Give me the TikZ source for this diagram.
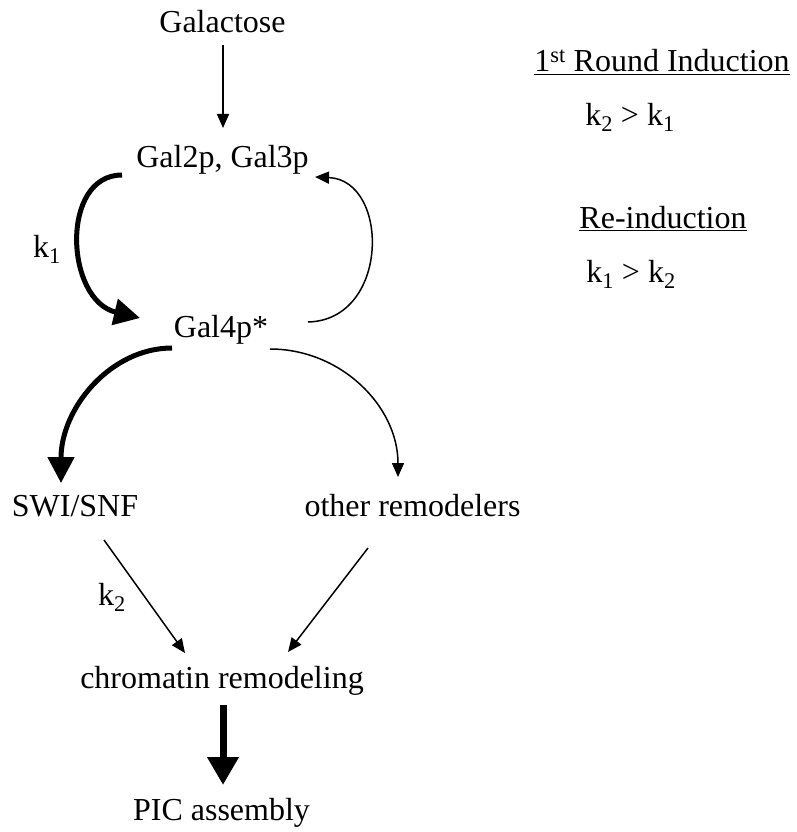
\documentclass[tikz,border=0pt]{standalone}
\usepackage{fontspec}
\setmainfont{Liberation Serif}
\usetikzlibrary{arrows.meta}
\tikzset{
  lbl/.style={anchor=base, inner sep=0pt, font=\fontsize{32}{38}\selectfont},
  thinarrow/.style={line width=1.5pt, -{Triangle[length=14pt,width=12pt]}},
  thickarrow/.style={line width=5pt, -{Triangle[length=26pt,width=26pt]}},
  fatarrow/.style={line width=7pt, -{Triangle[length=28pt,width=30pt]}}
}
\begin{document}
\begin{tikzpicture}[x=1pt,y=-1pt]
\useasboundingbox (0,0) rectangle (796,832);
% nodes
\node[lbl] (gal) at (222.5,33) {Galactose};
\node[lbl] (g23) at (222.5,167) {Gal2p, Gal3p};
\node[lbl] (g4) at (221,337) {Gal4p*};
\node[lbl] (swi) at (75,516) {SWI/SNF};
\node[lbl] (oth) at (412.5,516) {other remodelers};
\node[lbl] (chr) at (222,688) {chromatin remodeling};
\node[lbl] (pic) at (221.5,820) {PIC assembly};
\node[lbl] (kone) at (47,257) {k\textsubscript{1}};
\node[lbl] (ktwo) at (112,605) {k\textsubscript{2}};
\node[lbl] (first) at (662,72) {\underline{1\textsuperscript{st} Round Induction}};
\node[lbl] (r1) at (630,125) {k\textsubscript{2} > k\textsubscript{1}};
\node[lbl] (re) at (663,228) {\underline{Re-induction}};
\node[lbl] (r2) at (631,282) {k\textsubscript{1} > k\textsubscript{2}};
% coordinates
\coordinate (a0) at (223,45);
\coordinate (a1) at (223,128);
\coordinate (b0) at (122,175);
\coordinate (b1) at (140,318);
\coordinate (c0) at (308,322);
\coordinate (c1) at (315,177);
\coordinate (d0) at (172,348);
\coordinate (d1) at (61,483);
\coordinate (e0) at (270,349);
\coordinate (e1) at (398,477);
\coordinate (f0) at (104,540);
\coordinate (f1) at (185,653);
\coordinate (h0) at (368,548);
\coordinate (h1) at (288,652);
\coordinate (p0) at (223,705);
\coordinate (p1) at (223,785);
% connectors
\draw[thinarrow] (a0) -- (a1);
\draw[thickarrow] (b0) .. controls (60,175) and (65,300) .. (b1);
\draw[thinarrow] (c0) .. controls (390,320) and (390,180) .. (c1);
\draw[thickarrow] (d0) .. controls (110.7,348) and (61,408) .. (d1);
\draw[thinarrow] (e0) .. controls (340.7,349) and (398,406) .. (e1);
\draw[thinarrow] (f0) -- (f1);
\draw[thinarrow] (h0) -- (h1);
\draw[fatarrow] (p0) -- (p1);
\end{tikzpicture}
\end{document}
